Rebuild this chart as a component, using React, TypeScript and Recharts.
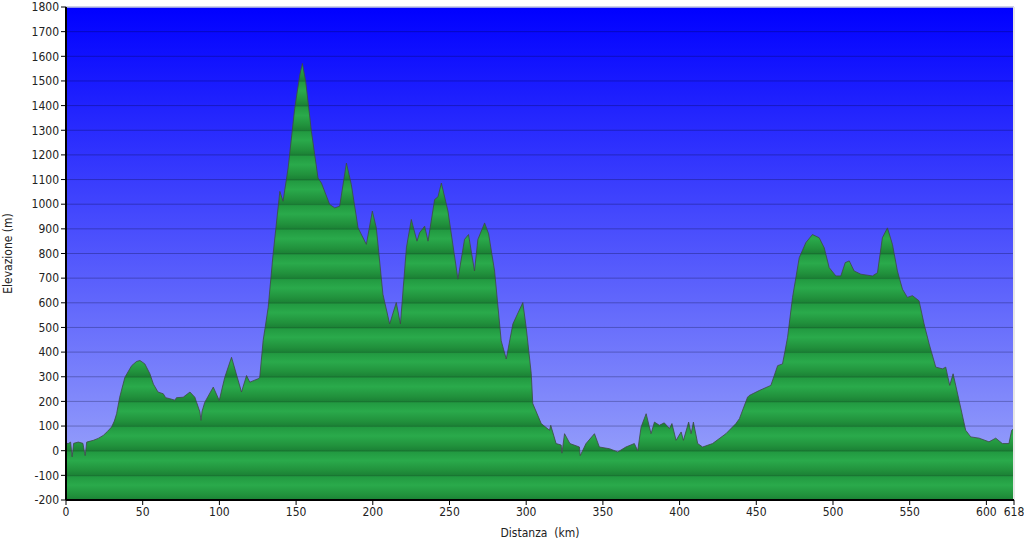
import { AreaChart, Area, XAxis, YAxis, CartesianGrid, ReferenceLine } from "recharts";

// profile: distance (km) and elevation (m)
const distanceKm = [
  0, 1.5, 3, 4, 5, 8, 11, 12.5, 13.5, 17.8, 21, 24.3, 27, 29.7, 31.5, 33, 35, 38.4, 42.8, 46,
  48.2, 51.4, 54.7, 57, 60, 63.4, 65, 67.7, 71, 72, 76.4, 80.8, 84, 87.3, 88, 88.7, 90.5, 96, 99.9,
  103.5, 107.9, 111, 114.4, 117.7, 119.8, 125.3, 126.3, 128.5, 131.8, 135, 139.4, 141.5, 144.8,
  149.1, 152.4, 154.1, 156.3, 160, 164.3, 166.5, 171.9, 175.2, 178.4, 182.8, 186, 190.4, 195.8,
  199.7, 202.3, 206.6, 211, 215.3, 218, 221.9, 225.1, 228.8, 230.5, 233.8, 236, 240.3, 242.5,
  244.7, 249, 255.5, 259.8, 262.4, 266.3, 268.5, 272.9, 275.5, 279.4, 283.7, 287, 291.3, 297.8,
  300, 303.3, 304.3, 309.8, 315.2, 316, 319.5, 322.8, 323.3, 325, 328.5, 334.7, 335.2, 339, 344.5,
  347.7, 354.3, 359.7, 365, 370.5, 372.7, 374.9, 378.2, 381.4, 383.6, 386.8, 390, 393.4, 395,
  397.7, 401, 402.5, 405.9, 407.5, 409, 411.8, 415, 421.5, 430.2, 436.7, 439, 444.3, 445.4, 451.9,
  459.5, 463.9, 467.1, 470.4, 473.6, 478, 482.3, 486.6, 491, 494.3, 497.5, 501.9, 505.1, 508,
  510.6, 513.8, 518.2, 525.7, 529, 532.2, 535.5, 538.8, 542, 545.3, 548.5, 551.8, 556.1, 559.4,
  562.7, 567, 571.4, 573.5, 576.1, 578.3, 582.2, 586.5, 589.8, 595.2, 601.7, 606.1, 610.4, 614.7,
  616.5, 618,
];
const elevationM = [
  30, 29, 35, -25, 30, 35, 30, -20, 35, 42, 50, 62, 78, 96, 120, 150, 217, 298, 345, 362,
  366, 352, 312, 270, 238, 231, 215, 211, 205, 215, 217, 238, 217, 157, 123, 160, 197, 258, 204,
  298, 379, 312, 238, 305, 278, 292, 298, 446, 581, 797, 1052, 1012, 1147,
  1389, 1524, 1571, 1497, 1295, 1106, 1086, 999, 985, 992, 1167, 1080, 904, 837,
  972, 904, 635, 514, 601, 514, 823, 938, 850, 884, 911, 850, 1019, 1030,
  1086, 972, 696, 857, 877, 729, 857, 924, 880, 729, 446, 372, 514, 601,
  500, 312, 191, 110, 83, 103, 29, 23, -10, 69, 29, 15, -20, 29, 69,
  15, 8, -5, 15, 29, 0, 96, 150, 69, 116, 103, 113, 90, 110,
  42, 76, 42, 116, 69, 116, 29, 15, 29, 69, 110, 130, 217, 224, 244,
  265, 345, 352, 460, 621, 783, 844, 877, 864, 823, 743, 709, 709, 763,
  770, 729, 716, 709, 722, 864, 904, 836, 729, 655, 622, 629, 608, 514,
  433, 339, 332, 339, 265, 312, 204, 83, 56, 51, 36, 51, 29, 29,
  83, 90,
];

const xTicks = [0, 50, 100, 150, 200, 250, 300, 350, 400, 450, 500, 550, 600, 618];
const yTicks = [
  -200, -100, 0, 100, 200, 300, 400, 500, 600, 700, 800, 900, 1000, 1100, 1200, 1300, 1400, 1500,
  1600, 1700, 1800,
];

const data = distanceKm.map((km, i) => ({ km, elev: elevationM[i] }));

const PLOT_TOP = 7;
const PLOT_BOTTOM = 500;
const FONT = "'DejaVu Sans Condensed', 'DejaVu Sans', Verdana, sans-serif";

// one light/dark band per 100 m, with a thin dark line at each grid line
function bandStops() {
  const bands = yTicks.length - 1;
  const step = 1 / bands;
  const stops: { offset: number; color: string }[] = [];
  for (let i = 0; i < bands; i++) {
    const o = i * step;
    stops.push({ offset: o, color: "#187230" });
    stops.push({ offset: o + step * 0.06, color: "#229a41" });
    stops.push({ offset: o + step * 0.4, color: "#2aaa4b" });
    stops.push({ offset: o + step * 0.8, color: "#21913c" });
    stops.push({ offset: o + step * 0.97, color: "#1c8336" });
  }
  stops.push({ offset: 1, color: "#187230" });
  return stops;
}

export default function App() {
  const tick = { fontSize: 12, fill: "#222", fontFamily: FONT };
  return (
    <div style={{ width: 1024, height: 545, background: "#fff" }}>
      <style>{"body{margin:0}"}</style>
      <AreaChart
        width={1024}
        height={545}
        data={data}
        margin={{ top: PLOT_TOP, right: 10, bottom: 5, left: 0 }}
      >
        <defs>
          <linearGradient id="sky" x1="0" y1="0" x2="0" y2="1">
            <stop offset="0" stopColor="#0000ff" />
            <stop offset="1" stopColor="#a2acfa" />
          </linearGradient>
          <linearGradient
            id="hill"
            gradientUnits="userSpaceOnUse"
            x1="0"
            y1={PLOT_TOP}
            x2="0"
            y2={PLOT_BOTTOM}
          >
            {bandStops().map((s, i) => (
              <stop key={i} offset={s.offset} stopColor={s.color} />
            ))}
          </linearGradient>
        </defs>
        <CartesianGrid
          vertical={false}
          fill="url(#sky)"
          fillOpacity={1}
          stroke="rgba(0,0,40,0.28)"
          strokeDasharray=""
        />
        <XAxis
          type="number"
          dataKey="km"
          domain={[0, 618]}
          ticks={xTicks}
          interval={0}
          height={40}
          tick={tick}
          tickSize={5}
          tickLine={{ stroke: "#000" }}
          axisLine={{ stroke: "#000", strokeWidth: 2 }}
          label={{
            value: "Distanza \u00a0(km)",
            position: "insideBottom",
            offset: 3,
            style: { fontSize: 12, fill: "#222", fontFamily: FONT },
          }}
        />
        <YAxis
          type="number"
          domain={[-200, 1800]}
          ticks={yTicks}
          interval={0}
          width={66}
          tick={tick}
          tickSize={5}
          tickLine={{ stroke: "#000" }}
          axisLine={{ stroke: "#000", strokeWidth: 2 }}
          label={{
            value: "Elevazione (m)",
            angle: -90,
            position: "insideLeft",
            offset: 8,
            style: { fontSize: 12, fill: "#222", fontFamily: FONT, textAnchor: "middle" },
          }}
        />
        <ReferenceLine y={1800} stroke="#c8cce8" strokeWidth={1.5} />
        <ReferenceLine x={618} stroke="#e6e6e6" strokeWidth={2} />
        <Area
          type="linear"
          dataKey="elev"
          baseValue={-200}
          stroke="#3d4a44"
          strokeWidth={1}
          strokeOpacity={0.8}
          fill="url(#hill)"
          fillOpacity={1}
          isAnimationActive={false}
          dot={false}
          activeDot={false}
        />
      </AreaChart>
    </div>
  );
}
